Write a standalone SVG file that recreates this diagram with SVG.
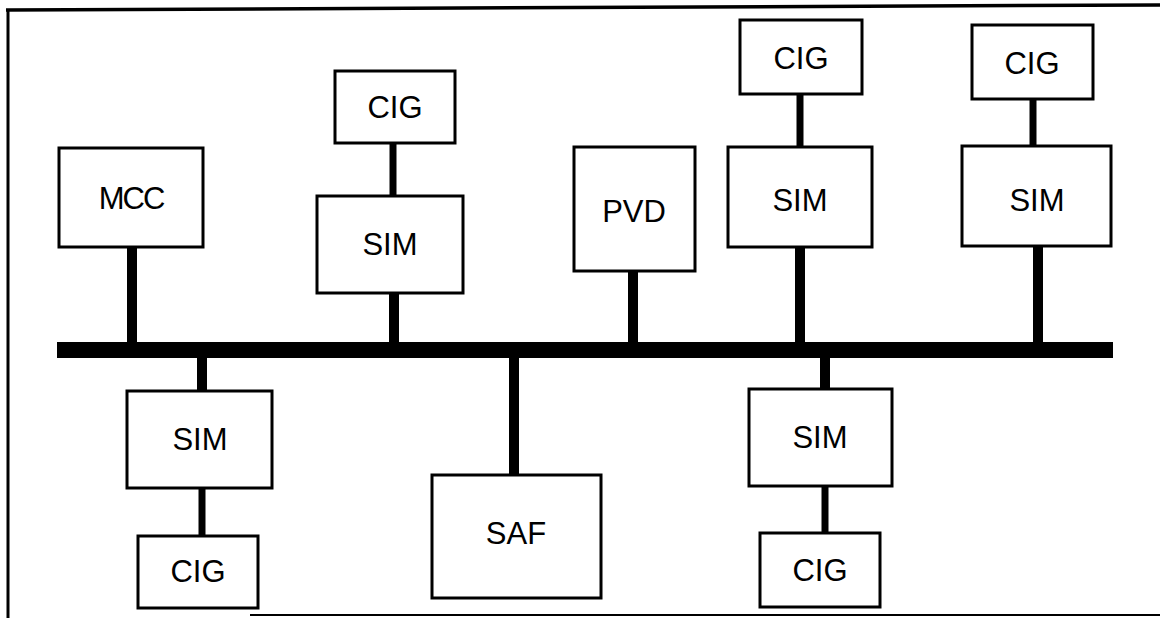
<svg xmlns="http://www.w3.org/2000/svg" width="1160" height="618" viewBox="0 0 1160 618">
<style>
.box{fill:#fff;stroke:#000;stroke-width:3}
.lbl{font-family:"Liberation Sans",Arial,sans-serif;font-size:31px;fill:#000;text-anchor:middle}
.stem{stroke:#000;stroke-width:10;fill:none}
.link{stroke:#000;stroke-width:7;fill:none}
.frame{stroke:#000;fill:none}
</style>
<rect width="1160" height="618" fill="#fff"/>
<g id="frame">
<line class="frame" x1="6" y1="10" x2="1160" y2="5" stroke-width="3.5"/>
<line class="frame" x1="8" y1="9" x2="8" y2="618" stroke-width="3"/>
<line class="frame" x1="250" y1="615" x2="1160" y2="615" stroke-width="2" stroke="#555"/>
</g>
<g id="connectors">
<rect id="bus" x="57" y="342" width="1056" height="16" fill="#000"/>
<line class="stem" x1="132" y1="247" x2="132" y2="343"/>
<line class="stem" x1="394" y1="293" x2="394" y2="343"/>
<line class="stem" x1="633" y1="271" x2="633" y2="343"/>
<line class="stem" x1="800" y1="247" x2="800" y2="343"/>
<line class="stem" x1="1038" y1="246" x2="1038" y2="343"/>
<line class="stem" x1="202" y1="357" x2="202" y2="391"/>
<line class="stem" x1="514" y1="357" x2="514" y2="475"/>
<line class="stem" x1="825" y1="357" x2="825" y2="389"/>
<line class="link" x1="393" y1="143" x2="393" y2="196"/>
<line class="link" x1="800" y1="94" x2="800" y2="147"/>
<line class="link" x1="1033" y1="99" x2="1033" y2="146"/>
<line class="link" x1="202" y1="488" x2="202" y2="536"/>
<line class="link" x1="825" y1="486" x2="825" y2="533"/>
</g>
<g id="mcc"><rect class="box" x="59" y="148" width="144" height="99"/><text class="lbl" x="131" y="209" letter-spacing="-2">MCC</text></g>
<g id="cig2"><rect class="box" x="335" y="71" width="120" height="72"/><text class="lbl" x="395" y="118">CIG</text></g>
<g id="sim2"><rect class="box" x="317" y="196" width="146" height="97"/><text class="lbl" x="390" y="255">SIM</text></g>
<g id="pvd"><rect class="box" x="574" y="147" width="121" height="124"/><text class="lbl" x="634" y="222">PVD</text></g>
<g id="cig3"><rect class="box" x="740" y="20" width="122" height="74"/><text class="lbl" x="801" y="69">CIG</text></g>
<g id="sim3"><rect class="box" x="728" y="147" width="144" height="100"/><text class="lbl" x="800" y="211">SIM</text></g>
<g id="cig4"><rect class="box" x="972" y="25" width="121" height="74"/><text class="lbl" x="1032" y="74">CIG</text></g>
<g id="sim4"><rect class="box" x="962" y="146" width="149" height="100"/><text class="lbl" x="1037" y="211">SIM</text></g>
<g id="sim1"><rect class="box" x="127" y="391" width="145" height="97"/><text class="lbl" x="200" y="450">SIM</text></g>
<g id="cig1"><rect class="box" x="138" y="536" width="120" height="72"/><text class="lbl" x="198" y="582">CIG</text></g>
<g id="saf"><rect class="box" x="432" y="475" width="169" height="123"/><text class="lbl" x="516" y="544">SAF</text></g>
<g id="sim5"><rect class="box" x="749" y="389" width="143" height="97"/><text class="lbl" x="820" y="448">SIM</text></g>
<g id="cig5"><rect class="box" x="760" y="533" width="120" height="74"/><text class="lbl" x="820" y="581">CIG</text></g>
</svg>
